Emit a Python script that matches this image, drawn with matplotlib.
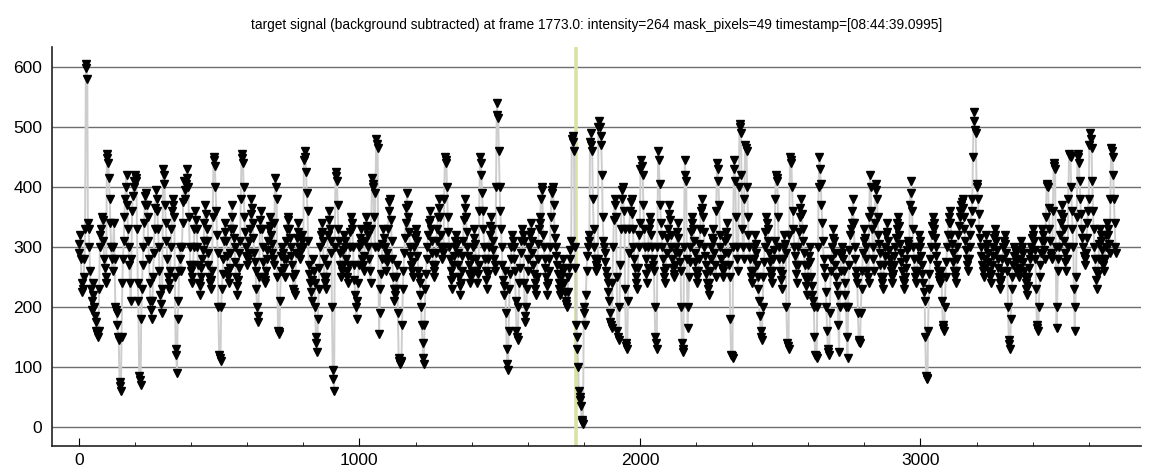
import numpy as np
import matplotlib.pyplot as plt

plt.rcParams['font.family'] = ['Liberation Sans', 'DejaVu Sans']

# signal values, one every 5 frames (rows = 100 frames)
frame_step = 5
intensity = [
    290, 320, 240, 230, 280, 605, 580, 330, 260, 210, 240, 200, 175, 155, 160, 300, 330, 345, 280, 250,  # 0
    455, 440, 380, 300, 260, 340, 200, 190, 150, 75, 60, 240, 310, 380, 420, 330, 270, 210, 360, 400,    # 100
    420, 410, 240, 85, 70, 230, 300, 370, 390, 350, 280, 210, 180, 250, 330, 395, 360, 300, 220, 190,    # 200
    430, 405, 340, 280, 230, 260, 330, 380, 350, 130, 90, 210, 300, 260, 340, 410, 380, 430, 400, 300,   # 300
    260, 240, 300, 360, 330, 270, 220, 250, 280, 310, 370, 330, 290, 250, 230, 260, 450, 435, 360, 290,  # 400
    120, 110, 230, 280, 340, 310, 260, 240, 290, 370, 330, 300, 250, 220, 265, 310, 455, 440, 350, 300,  # 500
    270, 290, 330, 380, 340, 290, 260, 200, 175, 330, 360, 300, 250, 240, 280, 310, 350, 320, 290, 270,  # 600
    415, 380, 160, 155, 260, 300, 280, 250, 310, 350, 330, 300, 270, 230, 220, 290, 340, 300, 280, 320,  # 700
    300, 460, 425, 360, 270, 240, 210, 280, 240, 150, 125, 230, 300, 340, 310, 250, 230, 270, 360, 330,  # 800
    290, 95, 60, 425, 410, 330, 290, 250, 270, 320, 300, 260, 240, 300, 350, 330, 270, 220, 180, 240,    # 900
    300, 330, 280, 260, 310, 350, 320, 280, 240, 415, 400, 300, 480, 465, 155, 230, 280, 330, 300, 260,  # 1000
    290, 360, 380, 310, 250, 210, 230, 270, 115, 105, 110, 230, 290, 340, 390, 350, 300, 270, 250, 300,  # 1100
    330, 310, 260, 240, 200, 140, 105, 230, 280, 320, 360, 330, 290, 250, 270, 310, 350, 380, 320, 280,  # 1200
    300, 450, 440, 350, 300, 260, 230, 270, 300, 320, 290, 250, 220, 260, 310, 380, 350, 300, 270, 240,  # 1300
    260, 300, 330, 280, 240, 270, 450, 420, 360, 300, 260, 230, 280, 320, 350, 310, 280, 260, 540, 515,  # 1400
    400, 330, 270, 220, 260, 130, 95, 230, 280, 320, 300, 260, 160, 145, 240, 290, 330, 310, 175, 200,   # 1500
    260, 300, 340, 310, 270, 240, 220, 280, 330, 350, 400, 320, 280, 250, 220, 260, 300, 390, 400, 330,  # 1600
    300, 270, 240, 220, 250, 280, 240, 210, 200, 250, 280, 310, 485, 460, 264, 150, 100, 50, 35, 8,      # 1700
    200, 170, 260, 300, 320, 490, 460, 330, 280, 260, 280, 510, 485, 420, 310, 290, 260, 240, 210, 175,  # 1800
    165, 300, 380, 350, 160, 145, 270, 380, 400, 330, 140, 130, 290, 360, 380, 330, 280, 250, 230, 300,  # 1900
    340, 445, 420, 330, 280, 240, 300, 350, 320, 280, 260, 150, 130, 460, 405, 340, 300, 260, 240, 290,  # 2000
    330, 370, 320, 280, 250, 270, 300, 340, 290, 260, 140, 125, 445, 410, 165, 250, 300, 350, 330, 290,  # 2100
    260, 240, 280, 330, 380, 350, 300, 270, 240, 220, 260, 300, 330, 290, 250, 440, 410, 320, 280, 250,  # 2200
    270, 310, 340, 290, 250, 120, 115, 445, 410, 300, 260, 505, 490, 330, 280, 470, 460, 350, 300, 260,  # 2300
    240, 280, 320, 290, 250, 210, 160, 145, 250, 300, 350, 330, 290, 260, 240, 280, 310, 420, 410, 300,  # 2400
    260, 230, 280, 320, 290, 140, 130, 450, 440, 360, 300, 270, 240, 300, 350, 380, 330, 290, 250, 220,  # 2500
    270, 300, 250, 220, 200, 120, 115, 300, 450, 405, 340, 280, 250, 200, 130, 120, 260, 300, 330, 290,  # 2600
    250, 220, 125, 260, 300, 280, 240, 200, 115, 270, 320, 340, 380, 300, 260, 240, 145, 140, 230, 290,  # 2700
    330, 300, 260, 240, 420, 360, 300, 260, 405, 380, 320, 290, 250, 230, 270, 300, 340, 310, 280, 260,  # 2800
    240, 270, 300, 330, 350, 320, 290, 260, 230, 250, 280, 310, 300, 410, 360, 300, 260, 240, 280, 320,  # 2900
    300, 270, 240, 210, 85, 80, 230, 280, 320, 350, 330, 300, 270, 250, 240, 260, 170, 160, 250, 300,    # 3000
    340, 360, 320, 290, 260, 240, 280, 320, 350, 370, 380, 350, 310, 280, 260, 300, 340, 380, 525, 495,  # 3100
    405, 380, 330, 300, 270, 250, 280, 320, 290, 260, 240, 270, 300, 330, 310, 280, 250, 230, 260, 300,  # 3200
    320, 290, 260, 145, 130, 230, 270, 300, 290, 260, 250, 280, 310, 290, 260, 240, 220, 250, 280, 300,  # 3300
    330, 310, 280, 170, 160, 250, 290, 330, 310, 280, 405, 400, 330, 290, 280, 440, 430, 165, 260, 300,  # 3400
    340, 370, 330, 290, 260, 300, 455, 450, 360, 300, 160, 250, 455, 440, 380, 330, 300, 270, 290, 340,  # 3500
    380, 490, 465, 360, 300, 260, 230, 280, 330, 310, 280, 260, 300, 340, 320, 290, 465, 450, 380, 300,  # 3600
]
# second reading, 2 frames after each of the above
intensity_b = [
    305, 280, 225, 250, 330, 598, 340, 300, 230, 195, 220, 185, 160, 150, 230, 320, 350, 310, 265, 240,  # 2
    448, 415, 340, 280, 300, 280, 195, 170, 145, 68, 150, 280, 350, 400, 370, 300, 240, 280, 385, 410,   # 102
    415, 330, 210, 78, 180, 270, 340, 385, 370, 310, 240, 195, 210, 290, 365, 380, 330, 260, 205, 230,   # 202
    420, 370, 310, 250, 240, 300, 360, 370, 250, 120, 180, 260, 280, 300, 375, 395, 405, 415, 350, 270,  # 302
    250, 270, 330, 345, 300, 240, 235, 265, 295, 340, 355, 310, 270, 240, 245, 350, 445, 400, 320, 200,  # 402
    115, 200, 255, 310, 325, 285, 250, 265, 330, 350, 315, 275, 235, 245, 290, 380, 448, 400, 325, 285,  # 502
    280, 310, 355, 365, 315, 275, 230, 185, 250, 345, 330, 275, 245, 260, 295, 330, 335, 305, 280, 340,  # 602
    400, 250, 158, 210, 285, 290, 265, 280, 330, 345, 315, 285, 250, 225, 255, 315, 325, 290, 300, 310,  # 702
    445, 450, 390, 310, 255, 225, 245, 260, 200, 140, 180, 265, 320, 325, 280, 240, 250, 320, 345, 310,  # 802
    200, 80, 300, 418, 370, 310, 270, 260, 295, 310, 280, 250, 270, 325, 340, 300, 245, 200, 210, 270,   # 902
    315, 305, 270, 285, 330, 335, 300, 260, 330, 405, 350, 390, 472, 300, 190, 255, 305, 315, 280, 275,  # 1002
    330, 375, 345, 280, 230, 220, 250, 190, 110, 108, 170, 260, 315, 365, 370, 325, 285, 260, 275, 315,  # 1102
    320, 285, 250, 220, 170, 115, 170, 255, 300, 340, 345, 310, 270, 260, 290, 330, 365, 350, 300, 290,  # 1202
    380, 445, 400, 325, 280, 245, 250, 285, 310, 305, 270, 235, 240, 285, 345, 365, 325, 285, 255, 250,  # 1302
    280, 315, 305, 260, 255, 360, 440, 390, 330, 280, 245, 255, 300, 335, 330, 295, 270, 400, 520, 460,  # 1402
    360, 300, 245, 235, 190, 105, 160, 255, 300, 310, 280, 210, 150, 200, 265, 310, 320, 240, 185, 230,  # 1502
    280, 320, 325, 290, 255, 230, 250, 305, 340, 380, 395, 300, 265, 235, 240, 280, 350, 395, 370, 315,  # 1602
    285, 255, 230, 235, 265, 260, 225, 205, 225, 265, 295, 480, 475, 300, 170, 130, 60, 45, 12, 5,       # 1702
    190, 220, 285, 310, 475, 470, 380, 300, 270, 265, 500, 500, 470, 350, 300, 275, 250, 225, 190, 170,  # 1802
    240, 345, 370, 250, 150, 200, 330, 395, 360, 230, 135, 210, 330, 375, 355, 300, 265, 240, 265, 320,  # 1902
    430, 435, 370, 300, 255, 265, 330, 340, 300, 270, 200, 140, 300, 445, 370, 320, 280, 250, 265, 315,  # 2002
    355, 345, 300, 265, 255, 290, 325, 315, 275, 200, 130, 300, 420, 280, 200, 275, 325, 340, 310, 275,  # 2102
    250, 260, 305, 360, 365, 325, 285, 255, 230, 240, 280, 315, 310, 270, 360, 430, 370, 300, 265, 260,  # 2202
    290, 325, 315, 270, 180, 118, 300, 430, 350, 280, 400, 500, 420, 300, 380, 465, 400, 320, 280, 250,  # 2302
    260, 300, 305, 270, 230, 185, 150, 200, 275, 325, 340, 310, 275, 250, 260, 295, 380, 415, 350, 280,  # 2402
    245, 255, 300, 305, 200, 135, 320, 445, 400, 330, 285, 255, 270, 325, 365, 355, 310, 270, 235, 245,  # 2502
    285, 275, 235, 210, 150, 118, 200, 400, 430, 370, 310, 265, 225, 160, 125, 190, 280, 315, 310, 270,  # 2602
    235, 170, 200, 285, 290, 260, 220, 150, 200, 295, 330, 360, 340, 280, 250, 190, 142, 190, 260, 310,  # 2702
    315, 280, 250, 350, 400, 330, 280, 340, 395, 350, 305, 270, 240, 250, 285, 320, 325, 295, 270, 250,  # 2802
    255, 285, 315, 340, 335, 305, 275, 245, 240, 265, 295, 305, 370, 390, 330, 280, 250, 260, 300, 310,  # 2902
    285, 255, 225, 150, 82, 160, 255, 300, 335, 340, 315, 285, 260, 245, 250, 210, 165, 200, 275, 320,   # 3002
    350, 340, 305, 275, 250, 260, 300, 335, 360, 375, 365, 330, 295, 270, 280, 320, 360, 450, 510, 490,  # 3102
    400, 355, 315, 285, 260, 265, 300, 305, 275, 250, 255, 285, 315, 320, 295, 265, 240, 245, 280, 310,  # 3202
    305, 275, 200, 138, 180, 250, 285, 295, 275, 255, 265, 295, 300, 275, 250, 230, 235, 265, 290, 315,  # 3302
    320, 295, 230, 165, 200, 270, 310, 320, 295, 350, 402, 365, 310, 285, 360, 435, 300, 200, 280, 320,  # 3402
    355, 350, 310, 275, 280, 380, 452, 400, 330, 230, 200, 350, 450, 410, 355, 315, 285, 280, 315, 360,  # 3502
    470, 480, 410, 330, 280, 245, 255, 305, 320, 295, 270, 280, 320, 330, 305, 380, 460, 420, 340, 290,  # 3602
]

frames = np.concatenate([np.arange(len(intensity)) * frame_step,
                         np.arange(len(intensity_b)) * frame_step + 2])
values = np.concatenate([intensity, intensity_b])
order = np.argsort(frames, kind='stable')
frames, values = frames[order], values[order]

current_frame = 1773.0
title = ('target signal (background subtracted) at frame 1773.0: intensity=264 '
         'mask_pixels=49 timestamp=[08:44:39.0995]')

fig = plt.figure(figsize=(11.52, 4.72), dpi=100)
ax = fig.add_axes([0.0451, 0.0551, 0.9453, 0.8453])

ax.plot(frames, values, color='#cdcdcd', lw=1.4, zorder=2)
ax.plot(frames, values, ls='none', marker='v', ms=5.8, color='black', zorder=3)
ax.axvline(current_frame, color='#dbe0a4', lw=2.6, zorder=1)

ax.set_xlim(-96, 3786)
ax.set_ylim(-32, 633)
ax.set_yticks([0, 100, 200, 300, 400, 500, 600])
ax.set_xticks([0, 1000, 2000, 3000])
ax.set_xticks(np.arange(0, 3800, 200), minor=True)
ax.yaxis.grid(True, color='#6e6e6e', lw=1)
ax.set_axisbelow(True)

for side in ['top', 'right']:
    ax.spines[side].set_visible(False)
for side in ['left', 'bottom']:
    ax.spines[side].set_color('#222222')
    ax.spines[side].set_linewidth(1.2)

ax.tick_params(axis='y', length=0, pad=7, labelsize=12.5)
ax.tick_params(axis='x', which='major', direction='in', length=6, pad=5, labelsize=12.5)
ax.tick_params(axis='x', which='minor', direction='in', length=3)

ax.set_title(title, fontsize=9.9, pad=13)

plt.savefig('out.png', dpi=100)
